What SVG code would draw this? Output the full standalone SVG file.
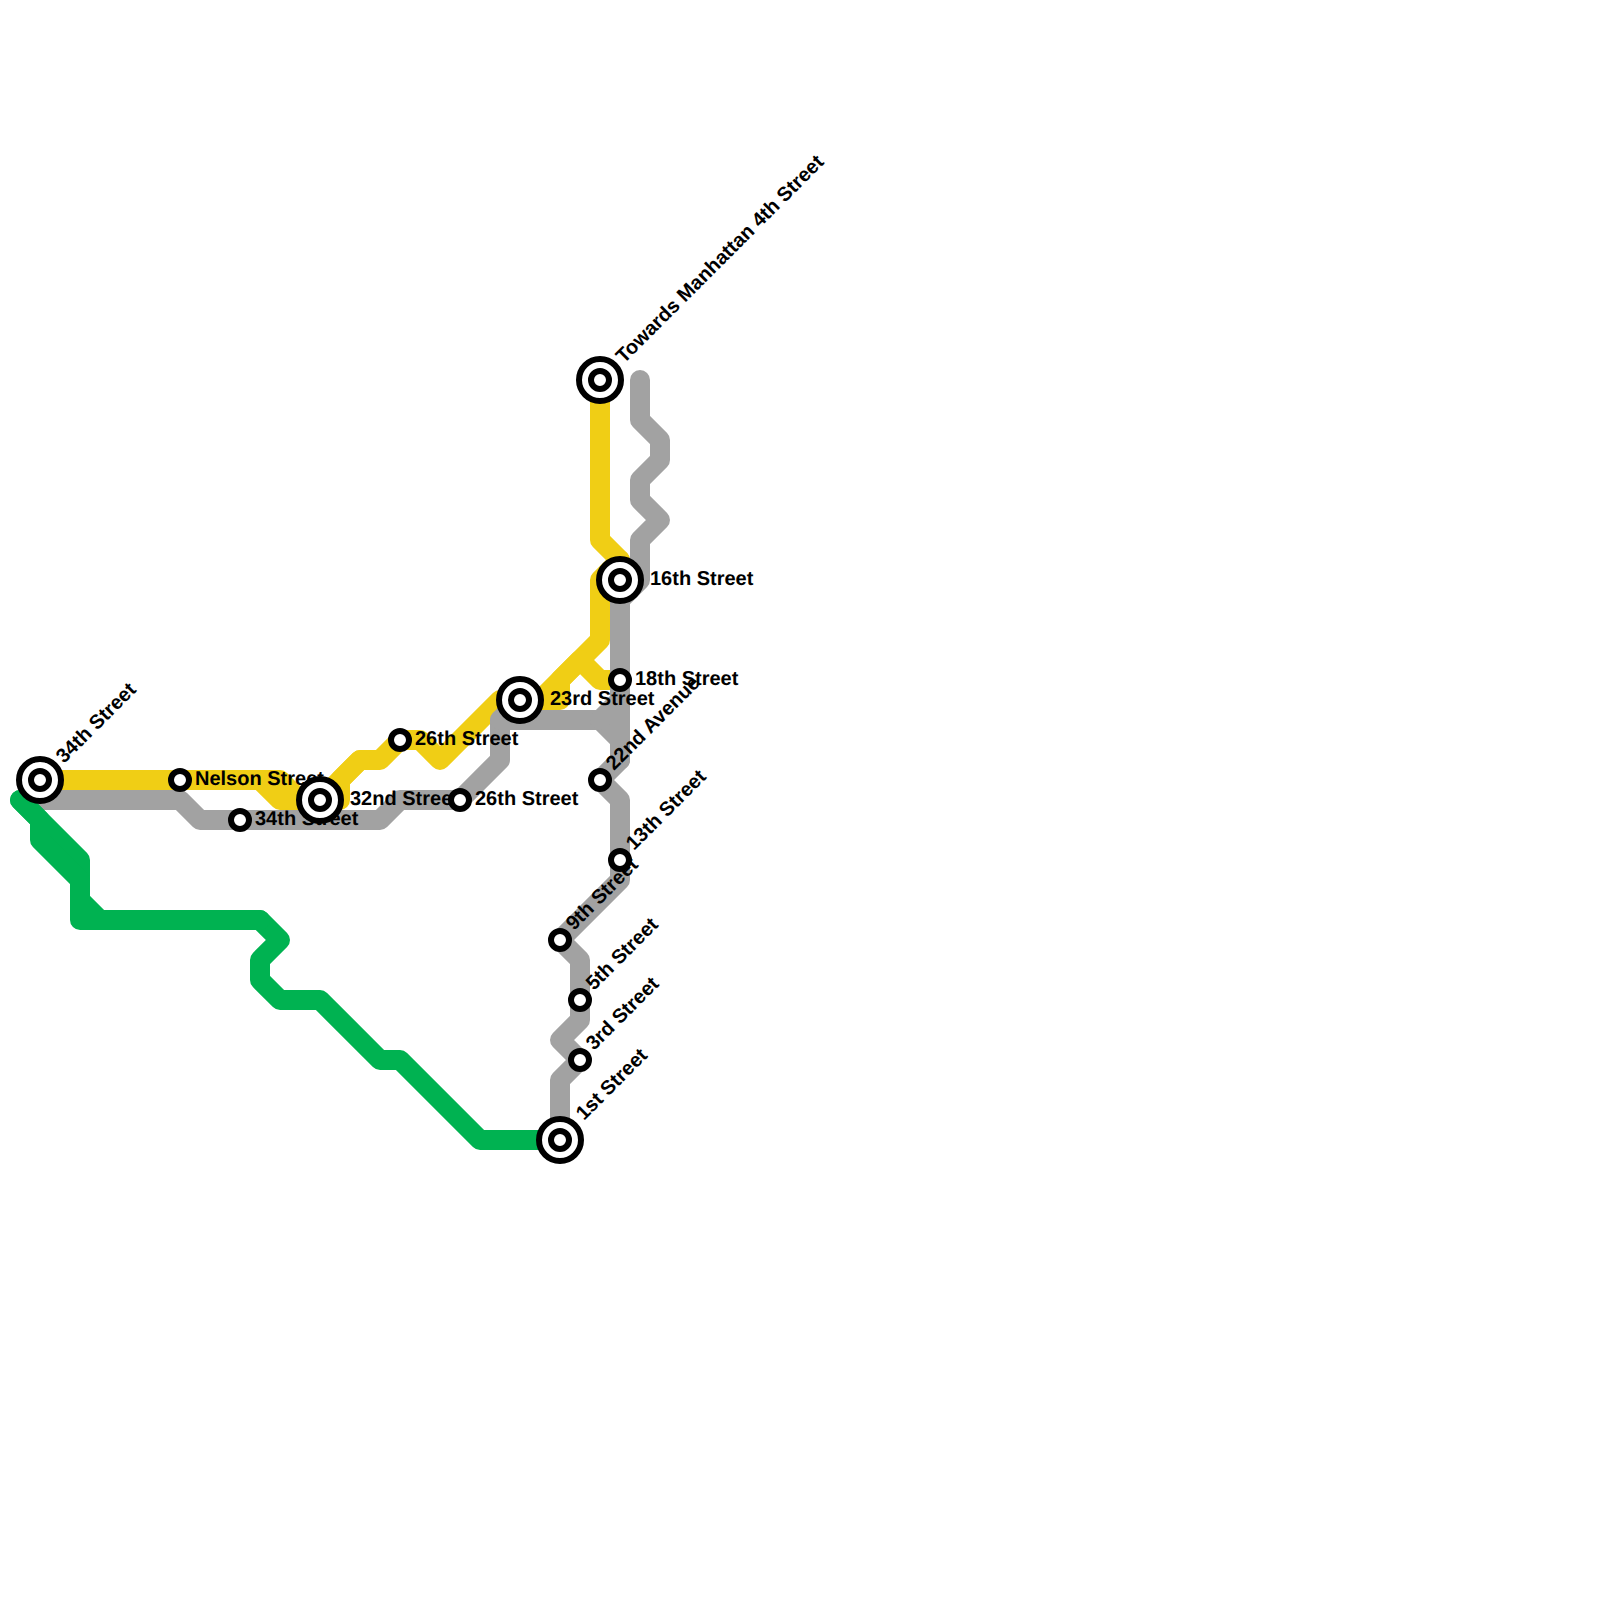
<svg xmlns="http://www.w3.org/2000/svg" width="1600" height="1600" viewBox="0 0 1600 1600">
<style>
.l{fill:none;stroke-width:20;stroke-linecap:round;stroke-linejoin:round}
.y{stroke:#f0ce15}.g{stroke:#a2a2a2}.n{stroke:#00b251}
.r{fill:#fff;stroke:#000;stroke-width:6}
text{font-family:"Liberation Sans",Arial,sans-serif;font-weight:700;font-size:20px;fill:#000;text-rendering:geometricPrecision}
</style>
<rect width="1600" height="1600" fill="#fff"/>
<g id="connectors">
<path class="l y" d="M40 780H280L300 800H320"/>
<path class="l y" d="M40 780H260L280 800H340V780L360 760H380L400 740H420L440 760L500 700H540L600 640V580L620 560"/>
<path class="l y" d="M320 800L360 760"/>
<path class="l y" d="M520 700H560V680L580 660L600 680H620"/>
<path class="l y" d="M600 380V540L620 560V580"/>
<path class="l g" d="M40 800H180L200 820H380L400 800H460L500 760V720L520 700"/>
<path class="l g" d="M500 720H600L620 740V760L600 780L620 800V880L560 940L580 960V1020L560 1040L580 1060L560 1080V1140"/>
<path class="l g" d="M600 720L620 700M620 760V600L640 580V540L660 520L640 500V480L660 460V440L640 420V380"/>
<path class="l n" d="M20 800L80 860V900L100 920H260L280 940L260 960V980L280 1000H320L380 1060H400L480 1140H560"/>
<path class="l n" d="M20 800L40 820V840L80 880V920H260"/>
</g>
<g id="st-34th-w"><text transform="translate(64 764) rotate(-45)">34th Street</text><circle class="r" cx="40" cy="780" r="21"/><circle class="r" cx="40" cy="780" r="9"/></g>
<g id="st-nelson"><text x="195" y="785">Nelson Street</text><circle class="r" cx="180" cy="780" r="9"/></g>
<g id="st-34th"><text x="255" y="825">34th Street</text><circle class="r" cx="240" cy="820" r="9"/></g>
<g id="st-32nd"><text x="350" y="805">32nd Street</text><circle class="r" cx="320" cy="800" r="21"/><circle class="r" cx="320" cy="800" r="9"/></g>
<g id="st-26th-y"><text x="415" y="745">26th Street</text><circle class="r" cx="400" cy="740" r="9"/></g>
<g id="st-26th-g"><text x="475" y="805">26th Street</text><circle class="r" cx="460" cy="800" r="9"/></g>
<g id="st-23rd"><text x="550" y="705">23rd Street</text><circle class="r" cx="520" cy="700" r="21"/><circle class="r" cx="520" cy="700" r="9"/></g>
<g id="st-towards"><text transform="translate(624 364) rotate(-45)">Towards Manhattan 4th Street</text><circle class="r" cx="600" cy="380" r="21"/><circle class="r" cx="600" cy="380" r="9"/></g>
<g id="st-16th"><text x="650" y="585">16th Street</text><circle class="r" cx="620" cy="580" r="21"/><circle class="r" cx="620" cy="580" r="9"/></g>
<g id="st-22nd"><text transform="translate(614 771) rotate(-45)">22nd Avenue</text><circle class="r" cx="600" cy="780" r="9"/></g>
<g id="st-18th"><text x="635" y="685">18th Street</text><circle class="r" cx="620" cy="680" r="9"/></g>
<g id="st-13th"><text transform="translate(634 851) rotate(-45)">13th Street</text><circle class="r" cx="620" cy="860" r="9"/></g>
<g id="st-9th"><text transform="translate(574 931) rotate(-45)">9th Street</text><circle class="r" cx="560" cy="940" r="9"/></g>
<g id="st-5th"><text transform="translate(594 991) rotate(-45)">5th Street</text><circle class="r" cx="580" cy="1000" r="9"/></g>
<g id="st-3rd"><text transform="translate(594 1051) rotate(-45)">3rd Street</text><circle class="r" cx="580" cy="1060" r="9"/></g>
<g id="st-1st"><text transform="translate(584 1121) rotate(-45)">1st Street</text><circle class="r" cx="560" cy="1140" r="21"/><circle class="r" cx="560" cy="1140" r="9"/></g>
</svg>
